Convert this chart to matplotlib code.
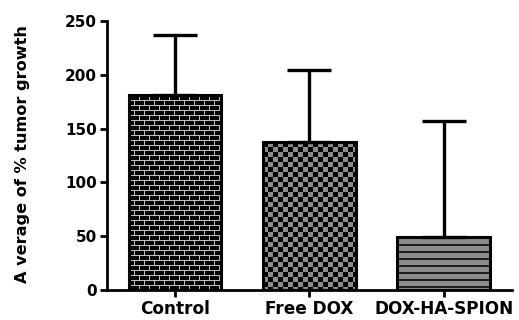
import numpy as np
import matplotlib
matplotlib.use("Agg")
import matplotlib.pyplot as plt

categories = ["Control", "Free DOX", "DOX-HA-SPION"]
means = [181, 137.5, 49]
errors_up = [56, 67.5, 108]
yticks = [0, 50, 100, 150, 200, 250]
ylabel = "A verage of % tumor growth"

plt.rcParams['font.family'] = ['DejaVu Sans']

fig = plt.figure(figsize=(5.19, 3.2), dpi=100)
ax = fig.add_axes([0.206, 0.094, 0.780, 0.840])

x = np.arange(len(categories))
ax.set_xlim(-0.506, 2.506)
ax.set_ylim(0, 250)

bars = ax.bar(x, means, width=0.69, facecolor='none', edgecolor='black',
              linewidth=2.2, zorder=3)
ax.errorbar(x, means, yerr=[[0] * len(means), errors_up], fmt='none',
            ecolor='black', elinewidth=2.4, capsize=16, capthick=2.4, zorder=2)


def brick(h, w):
    img = np.zeros((h, w))
    row = 5
    for r in range(0, h, row):
        img[r, :] = 0.75
        off = 0 if (r // row) % 2 == 0 else 5
        for c in range(off, w, 10):
            img[r:r + row, c] = 0.75
    return img


def checker(h, w):
    yy, xx = np.mgrid[0:h, 0:w]
    return np.where(((yy // 5) + (xx // 5)) % 2 == 0, 0.0, 0.55)


def stripes(h, w):
    img = np.full((h, w), 0.55)
    for r in range(0, h, 7):
        img[r:r + 2, :] = 0.12
    return img


patterns = [brick, checker, stripes]
fig.canvas.draw()
for b, pat in zip(bars, patterns):
    bx, by, bw, bh = b.get_x(), b.get_y(), b.get_width(), b.get_height()
    p0 = ax.transData.transform((bx, by))
    p1 = ax.transData.transform((bx + bw, by + bh))
    wpx = int(round(abs(p1[0] - p0[0])))
    hpx = int(round(abs(p1[1] - p0[1])))
    tex = pat(max(hpx, 1), max(wpx, 1))
    im = ax.imshow(tex, cmap='gray', vmin=0, vmax=1, extent=(bx, bx + bw, by, by + bh),
                   origin='upper', interpolation='nearest', aspect='auto', zorder=1)
    im.set_clip_path(b)

ax.set_xlim(-0.506, 2.506)
ax.set_ylim(0, 250)

for s in ['top', 'right']:
    ax.spines[s].set_visible(False)
for s in ['left', 'bottom']:
    ax.spines[s].set_linewidth(2)

ax.set_xticks(x)
ax.set_xticklabels(categories, fontsize=12.2, fontweight='bold')
ax.set_yticks(yticks)
ax.set_yticklabels([str(t) for t in yticks], fontsize=11, fontweight='bold')
ax.tick_params(axis='both', width=2, length=5, direction='out')
ax.tick_params(axis='x', pad=2)
ax.tick_params(axis='y', pad=2)
ax.set_ylabel(ylabel, fontsize=11.6, fontweight='bold')
ax.yaxis.set_label_coords(-0.19, 0.505)

fig.savefig("out.png", dpi=100)
